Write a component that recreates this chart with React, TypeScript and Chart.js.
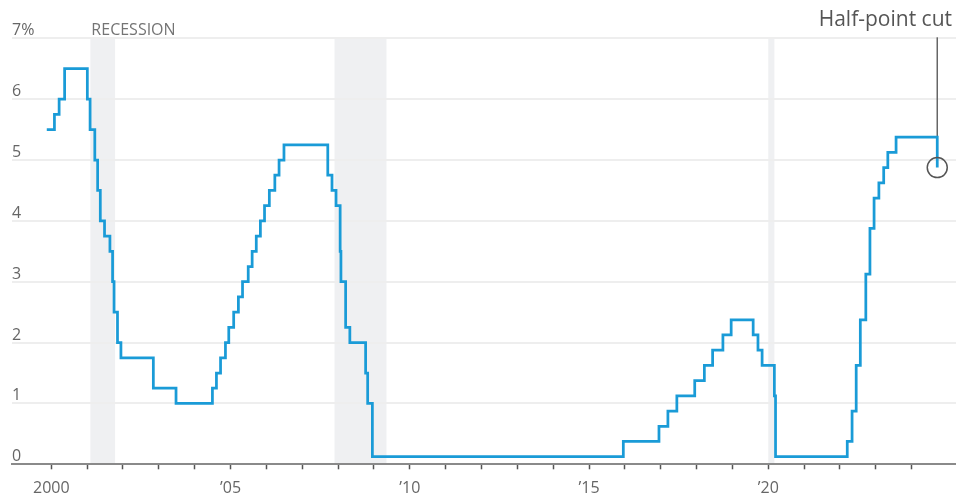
import React, { useEffect, useRef } from "react";
import { Chart, registerables } from "chart.js";

Chart.register(...registerables);

// Federal funds target rate (midpoint of range after Dec 2008), %
const rateDates = [
  "1999-11-16", "2000-02-02", "2000-03-21", "2000-05-16",
  "2001-01-03", "2001-01-31", "2001-03-20", "2001-04-18", "2001-05-15", "2001-06-27",
  "2001-08-21", "2001-09-17", "2001-10-02", "2001-11-06", "2001-12-11",
  "2002-11-06", "2003-06-25",
  "2004-06-30", "2004-08-10", "2004-09-21", "2004-11-10", "2004-12-14",
  "2005-02-02", "2005-03-22", "2005-05-03", "2005-06-30", "2005-08-09", "2005-09-20",
  "2005-11-01", "2005-12-13", "2006-01-31", "2006-03-28", "2006-05-10", "2006-06-29",
  "2007-09-18", "2007-10-31", "2007-12-11",
  "2008-01-22", "2008-01-30", "2008-03-18", "2008-04-30", "2008-10-08", "2008-10-29", "2008-12-16",
  "2015-12-16", "2016-12-14", "2017-03-15", "2017-06-14", "2017-12-13",
  "2018-03-21", "2018-06-13", "2018-09-26", "2018-12-19",
  "2019-07-31", "2019-09-18", "2019-10-30",
  "2020-03-03", "2020-03-15",
  "2022-03-16", "2022-05-04", "2022-06-15", "2022-07-27", "2022-09-21", "2022-11-02", "2022-12-14",
  "2023-02-01", "2023-03-22", "2023-05-03", "2023-07-26",
  "2024-09-18",
];
const rateValues = [
  5.5, 5.75, 6.0, 6.5,
  6.0, 5.5, 5.0, 4.5, 4.0, 3.75,
  3.5, 3.0, 2.5, 2.0, 1.75,
  1.25, 1.0,
  1.25, 1.5, 1.75, 2.0, 2.25,
  2.5, 2.75, 3.0, 3.25, 3.5, 3.75,
  4.0, 4.25, 4.5, 4.75, 5.0, 5.25,
  4.75, 4.5, 4.25,
  3.5, 3.0, 2.25, 2.0, 1.5, 1.0, 0.125,
  0.375, 0.625, 0.875, 1.125, 1.375,
  1.625, 1.875, 2.125, 2.375,
  2.125, 1.875, 1.625,
  1.125, 0.125,
  0.375, 0.875, 1.625, 2.375, 3.125, 3.875, 4.375,
  4.625, 4.875, 5.125, 5.375,
  4.875,
];

// Recession periods (decimal years)
const recessionStarts = [2001.09, 2007.9, 2020.0];
const recessionEnds = [2001.78, 2009.35, 2020.17];
const recessionText = "RECESSION";

// Axes
const yTickValues = [0, 1, 2, 3, 4, 5, 6, 7];
const yTickLabels = ["0", "1", "2", "3", "4", "5", "6", "7%"];
const xTickYears = [
  2000, 2001, 2002, 2003, 2004, 2005, 2006, 2007, 2008, 2009, 2010, 2011, 2012,
  2013, 2014, 2015, 2016, 2017, 2018, 2019, 2020, 2021, 2022, 2023, 2024,
];
const xLabelYears = [2000, 2005, 2010, 2015, 2020];
const xLabelTexts = ["2000", "\u201905", "\u201910", "\u201915", "\u201920"];
const X_MIN = 1998.904;
const X_MAX = 2025.236;

const annotationText = "Half-point cut";

const FONT = "'Open Sans', 'DejaVu Sans', sans-serif";

function toYear(s: string): number {
  const [y, m, d] = s.split("-").map(Number);
  const start = Date.UTC(y, 0, 1);
  const end = Date.UTC(y + 1, 0, 1);
  const t = Date.UTC(y, m - 1, d);
  return y + (t - start) / (end - start);
}

const overlayPlugin = {
  id: "overlay",
  beforeDraw(chart: any) {
    const { ctx, chartArea, scales } = chart;
    const x = scales.x;
    const y = scales.y;
    const top = y.getPixelForValue(7);
    ctx.save();
    ctx.fillStyle = "#eff0f2";
    recessionStarts.forEach((s, i) => {
      const x0 = x.getPixelForValue(s);
      const x1 = x.getPixelForValue(recessionEnds[i]);
      ctx.fillRect(x0, top, x1 - x0, chartArea.bottom - top);
    });
    ctx.restore();
  },
  beforeDatasetsDraw(chart: any) {
    const { ctx, chartArea, scales } = chart;
    const x = scales.x;
    const y = scales.y;
    ctx.save();
    // y labels above gridlines
    ctx.font = `16px ${FONT}`;
    ctx.fillStyle = "#666666";
    ctx.textAlign = "left";
    ctx.textBaseline = "alphabetic";
    yTickValues.forEach((v, i) => {
      ctx.fillText(yTickLabels[i], chartArea.left, y.getPixelForValue(v) - 3);
    });
    // recession label
    ctx.fillStyle = "#747474";
    ctx.fillText(recessionText, x.getPixelForValue(recessionStarts[0]) + 1, y.getPixelForValue(7) - 3);
    // annotation leader line
    const lastX = x.getPixelForValue(toYear(rateDates[rateDates.length - 1]));
    const lastY = y.getPixelForValue(rateValues[rateValues.length - 1]);
    ctx.strokeStyle = "#666666";
    ctx.lineWidth = 1.5;
    ctx.beginPath();
    ctx.moveTo(lastX, y.getPixelForValue(7) - 1);
    ctx.lineTo(lastX, lastY - 10);
    ctx.stroke();
    ctx.restore();
  },
  afterDatasetsDraw(chart: any) {
    const { ctx, scales } = chart;
    const x = scales.x;
    const y = scales.y;
    const lastX = x.getPixelForValue(toYear(rateDates[rateDates.length - 1]));
    const lastY = y.getPixelForValue(rateValues[rateValues.length - 1]);
    ctx.save();
    ctx.strokeStyle = "#555555";
    ctx.lineWidth = 1.5;
    ctx.beginPath();
    ctx.arc(lastX, lastY, 10, 0, Math.PI * 2);
    ctx.stroke();
    ctx.font = `21px ${FONT}`;
    ctx.fillStyle = "#555555";
    ctx.textAlign = "right";
    ctx.textBaseline = "alphabetic";
    ctx.fillText(annotationText, 952, 25.5);
    ctx.restore();
  },
};

export default function App() {
  const canvasRef = useRef<HTMLCanvasElement | null>(null);

  useEffect(() => {
    document.body.style.margin = "0";
    const canvas = canvasRef.current;
    if (!canvas) return;
    const points = rateDates.map((d, i) => ({ x: toYear(d), y: rateValues[i] }));
    const chart = new Chart(canvas, {
      type: "line",
      data: {
        datasets: [
          {
            data: points,
            borderColor: "#1a9bd7",
            borderWidth: 2.75,
            pointRadius: 0,
            pointHoverRadius: 0,
            stepped: true,
            fill: false,
            borderCapStyle: "butt",
          },
        ],
      },
      options: {
        animation: false,
        responsive: false,
        devicePixelRatio: 1,
        layout: { padding: { left: 12, right: 0, top: 38.3, bottom: 0 } },
        plugins: {
          legend: { display: false },
          tooltip: { enabled: false },
        },
        scales: {
          x: {
            type: "linear",
            min: X_MIN,
            max: X_MAX,
            afterBuildTicks: (scale: any) => {
              scale.ticks = xTickYears.map((v) => ({ value: v }));
            },
            afterFit: (scale: any) => {
              scale.height = 33.7;
            },
            grid: {
              drawOnChartArea: false,
              drawTicks: true,
              tickLength: 5,
              tickColor: "#555555",
              tickWidth: 1.5,
            },
            border: { display: true, color: "#8a8a8a", width: 2 },
            ticks: {
              autoSkip: false,
              maxRotation: 0,
              padding: 10,
              color: "#666666",
              font: { family: FONT, size: 16 },
              callback: (v: any) => {
                const idx = xLabelYears.indexOf(Number(v));
                return idx >= 0 ? xLabelTexts[idx] : "";
              },
            },
          },
          y: {
            min: 0,
            max: 7,
            afterFit: (scale: any) => {
              scale.width = 0;
            },
            ticks: { display: false, stepSize: 1 },
            grid: { color: "#eeeeee", lineWidth: 2, drawTicks: false },
            border: { display: false },
          },
        },
      },
      plugins: [overlayPlugin],
    } as any);
    return () => chart.destroy();
  }, []);

  return (
    <div style={{ width: 956, height: 498 }}>
      <canvas ref={canvasRef} width={956} height={498} style={{ display: "block" }} />
    </div>
  );
}
